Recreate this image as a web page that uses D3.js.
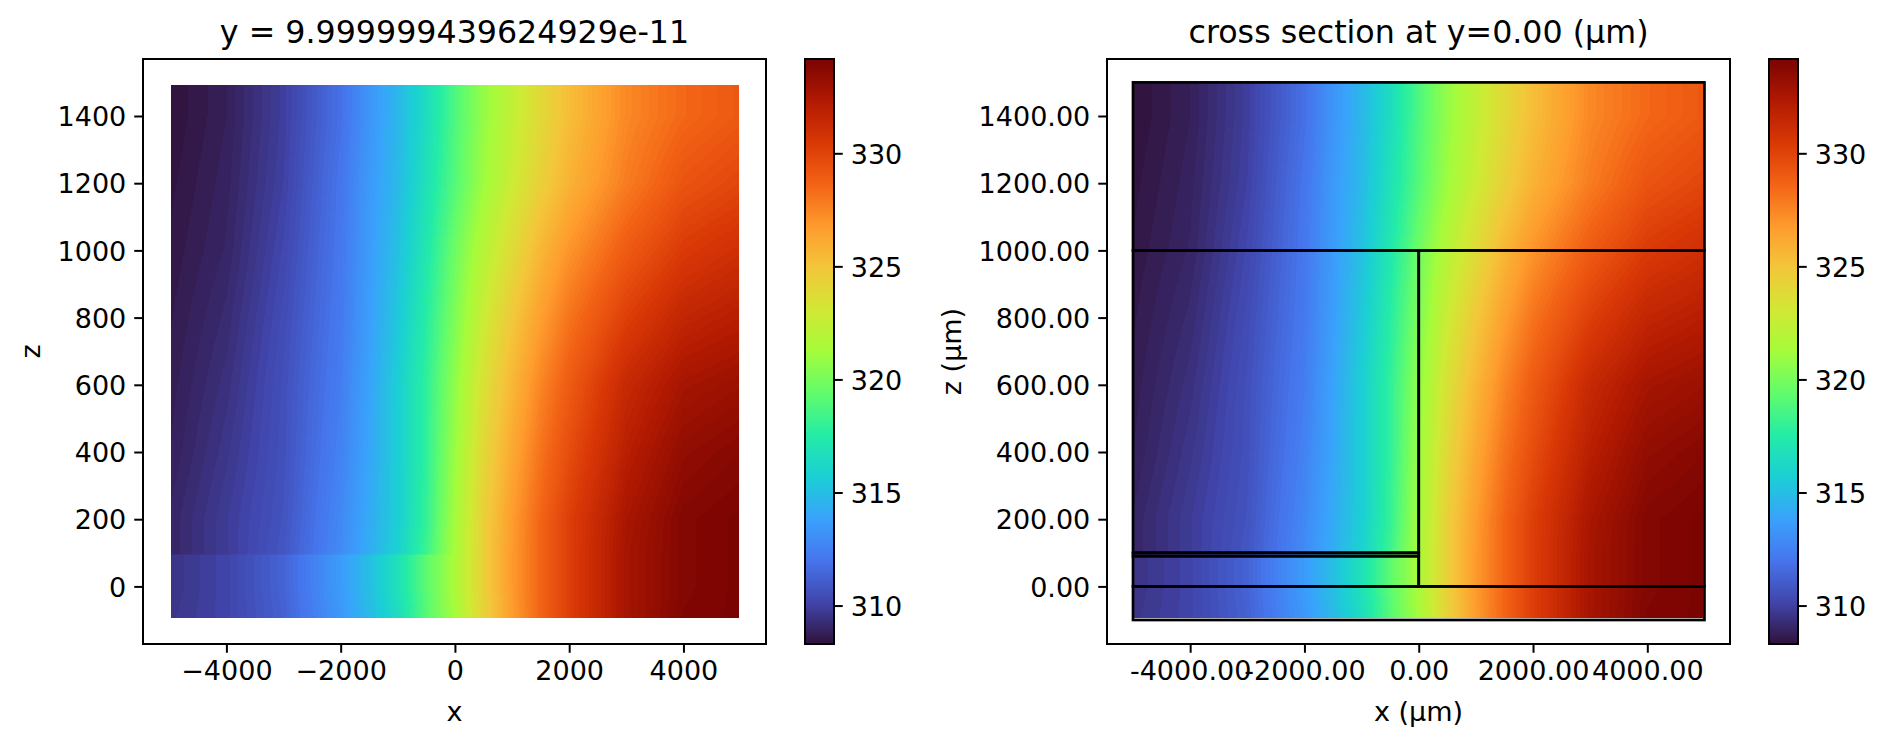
<!DOCTYPE html>
<html>
<head>
<meta charset="utf-8">
<script src="https://cdn.jsdelivr.net/npm/d3@7"></script>
<style>
  body { margin: 0; background: white; }
  text { font-family: "DejaVu Sans", sans-serif; fill: black; }
</style>
</head>
<body>
<div id="chart"></div>
<script>
// values
const gridX = [-5000, -4000, -3000, -2000, -1500, -1000, -500, 0, 500, 1000, 1500, 2000, 3000, 4000, 5000];
const gridZ = [-100, 0, 93, 97, 200, 400, 600, 800, 1000, 1200, 1400, 1500];
const gridT = [
    [309.6, 310.1, 311.2, 313.4, 314.8, 316.5, 319.0, 321.3, 324.3, 326.7, 328.6, 330.2, 332.7, 334.0, 334.2],
    [309.5, 310.1, 311.3, 313.6, 315.0, 316.8, 319.2, 321.5, 324.4, 326.8, 328.6, 330.2, 332.7, 333.9, 334.2],
    [309.5, 310.1, 311.3, 313.6, 315.0, 316.8, 319.2, 321.5, 324.4, 326.8, 328.6, 330.2, 332.7, 333.9, 334.2],
    [309.0, 309.8, 310.8, 312.9, 314.3, 315.9, 318.3, 321.4, 324.4, 326.8, 328.6, 330.2, 332.7, 333.9, 334.2],
    [309.0, 309.8, 310.7, 312.8, 314.2, 315.7, 318.0, 321.3, 324.4, 326.7, 328.6, 330.2, 332.6, 333.9, 334.2],
    [308.8, 309.6, 310.6, 312.55, 314.0, 315.7, 317.9, 321.0, 324.0, 326.2, 328.1, 329.6, 332.0, 333.4, 333.8],
    [308.7, 309.4, 310.55, 312.35, 313.9, 315.7, 317.9, 320.7, 323.5, 325.6, 327.5, 329.0, 331.4, 332.7, 333.1],
    [308.6, 309.2, 310.4, 312.2, 313.7, 315.4, 317.6, 320.2, 322.8, 324.8, 326.6, 328.1, 330.2, 331.6, 332.1],
    [308.5, 309.0, 310.2, 312.1, 313.6, 315.1, 317.2, 319.7, 322.0, 323.8, 325.6, 327.0, 329.0, 330.4, 331.0],
    [308.4, 308.9, 310.0, 312.0, 313.5, 314.8, 316.8, 319.0, 321.1, 322.8, 324.4, 325.8, 327.8, 329.3, 329.9],
    [308.3, 308.8, 309.9, 311.8, 313.3, 314.7, 316.5, 318.8, 320.8, 322.4, 323.9, 325.3, 327.4, 328.5, 329.1],
    [308.3, 308.8, 309.9, 311.8, 313.3, 314.7, 316.5, 318.8, 320.8, 322.4, 323.9, 325.3, 327.4, 328.5, 329.1]
];
const xTicks = [-4000, -2000, 0, 2000, 4000];
const zTicks = [0, 200, 400, 600, 800, 1000, 1200, 1400];
const cbarTicks = [310, 315, 320, 325, 330];
const cbarRange = [308.3, 334.17];
// layer outlines on the cross section: x0, x1, z0, z1
const layerX0 = [-5000, -5000, -5000, -5000, -5000, 0];
const layerX1 = [5000, 5000, 0, 0, 0, 5000];
const layerZ0 = [-100, 1000, 100, 90, 0, 0];
const layerZ1 = [0, 1500, 1000, 100, 90, 1000];
// turbo colormap
const turboColors = ["#30123b", "#4145ab", "#4675ed", "#39a2fc", "#1bcfd4", "#24eca6", "#61fc6c", "#a4fc3b",
    "#d1e834", "#f3c63a", "#fe9b2d", "#f36315", "#d93806", "#b11901", "#7a0402"];

const width = 1886, height = 747;
const plotTop = 59, plotBottom = 644;
const levelStep = 0.17;
const tickFont = "27px", titleFont = "31.7px";

const svg = d3.select("#chart").append("svg")
    .attr("width", width)
    .attr("height", height)
    .style("display", "block");

const defs = svg.append("defs");
const color = d3.scaleLinear()
    .domain(d3.range(turboColors.length).map(i => cbarRange[0] + (cbarRange[1] - cbarRange[0]) * i / (turboColors.length - 1)))
    .range(turboColors)
    .clamp(true);

const gradient = defs.append("linearGradient")
    .attr("id", "turbo")
    .attr("x1", 0).attr("x2", 0).attr("y1", 1).attr("y2", 0);
turboColors.forEach((c, i) => {
    gradient.append("stop").attr("offset", i / (turboColors.length - 1)).attr("stop-color", c);
});

// look up T between the read values
function tempAt(x, z) {
    const i = Math.min(Math.max(d3.bisectRight(gridX, x) - 1, 0), gridX.length - 2);
    const j = Math.min(Math.max(d3.bisectRight(gridZ, z) - 1, 0), gridZ.length - 2);
    const u = (x - gridX[i]) / (gridX[i + 1] - gridX[i]);
    const v = (z - gridZ[j]) / (gridZ[j + 1] - gridZ[j]);
    const a = gridT[j][i] * (1 - u) + gridT[j][i + 1] * u;
    const b = gridT[j + 1][i] * (1 - u) + gridT[j + 1][i + 1] * u;
    return a * (1 - v) + b * v;
}

function drawHeat(x, z, heatX, heatZ) {
    const x0 = Math.round(x(heatX[0])), x1 = Math.round(x(heatX[1]));
    const y0 = Math.round(z(heatZ[1])), y1 = Math.round(z(heatZ[0]));
    const canvas = document.createElement("canvas");
    canvas.width = x1 - x0;
    canvas.height = y1 - y0;
    const ctx = canvas.getContext("2d");
    for (let py = y0; py < y1; py++) {
        for (let px = x0; px < x1; px++) {
            const t = tempAt(x.invert(px + 0.5), z.invert(py + 0.5));
            ctx.fillStyle = color(Math.round(t / levelStep) * levelStep);
            ctx.fillRect(px - x0, py - y0, 1, 1);
        }
    }
    svg.append("image")
        .attr("x", x0).attr("y", y0)
        .attr("width", x1 - x0).attr("height", y1 - y0)
        .attr("href", canvas.toDataURL());
}

function styleAxis(g) {
    g.attr("font-size", null).attr("font-family", null);
    g.selectAll(".domain").remove();
    g.selectAll(".tick line").attr("stroke", "black").attr("stroke-width", 2);
    g.selectAll(".tick text").style("font-size", tickFont);
}

function drawPanel(opt) {
    const x = d3.scaleLinear().domain(opt.xDomain).range([opt.left, opt.right]);
    const z = d3.scaleLinear().domain([-171.4, 1569.6]).range([plotBottom, plotTop]);

    drawHeat(x, z, opt.heatX, opt.heatZ);

    if (opt.layers) {
        svg.selectAll(null)
            .data(d3.range(layerX0.length))
            .enter()
            .append("rect")
            .attr("x", i => x(layerX0[i]))
            .attr("y", i => z(layerZ1[i]))
            .attr("width", i => x(layerX1[i]) - x(layerX0[i]))
            .attr("height", i => z(layerZ0[i]) - z(layerZ1[i]))
            .attr("fill", "none")
            .attr("stroke", "black")
            .attr("stroke-width", 2.7);
    }

    // frame
    svg.append("rect")
        .attr("x", opt.left).attr("y", plotTop)
        .attr("width", opt.right - opt.left).attr("height", plotBottom - plotTop)
        .attr("fill", "none").attr("stroke", "black").attr("stroke-width", 2);

    svg.append("g")
        .attr("transform", `translate(0, ${plotBottom})`)
        .call(d3.axisBottom(x).tickValues(xTicks).tickFormat(opt.xFormat).tickSize(8.75).tickPadding(8))
        .call(styleAxis);
    svg.append("g")
        .attr("transform", `translate(${opt.left}, 0)`)
        .call(d3.axisLeft(z).tickValues(zTicks).tickFormat(opt.zFormat).tickSize(8.75).tickPadding(8))
        .call(styleAxis)
        .selectAll(".tick text").attr("y", 1);

    svg.append("text")
        .attr("x", (opt.left + opt.right) / 2)
        .attr("y", 43)
        .attr("text-anchor", "middle")
        .style("font-size", titleFont)
        .text(opt.title);
    svg.append("text")
        .attr("x", (opt.left + opt.right) / 2)
        .attr("y", 721)
        .attr("text-anchor", "middle")
        .style("font-size", tickFont)
        .text(opt.xLabel);
    svg.append("text")
        .attr("transform", `translate(${opt.zLabelX}, ${(plotTop + plotBottom) / 2}) rotate(-90)`)
        .attr("text-anchor", "middle")
        .style("font-size", tickFont)
        .text(opt.zLabel);

    // colorbar
    const c = d3.scaleLinear().domain(cbarRange).range([plotBottom, plotTop]);
    svg.append("rect")
        .attr("x", opt.cbarLeft).attr("y", plotTop)
        .attr("width", 29).attr("height", plotBottom - plotTop)
        .attr("fill", "url(#turbo)")
        .attr("stroke", "black").attr("stroke-width", 2);
    svg.append("g")
        .attr("transform", `translate(${opt.cbarLeft + 29}, 0)`)
        .call(d3.axisRight(c).tickValues(cbarTicks).tickSize(8.75).tickPadding(8))
        .call(styleAxis)
        .selectAll(".tick text").attr("y", 1.5);
}

drawPanel({
    left: 143, right: 766, xDomain: [-5460, 5445], cbarLeft: 805,
    heatX: [-4965, 4965], heatZ: [-93, 1493],
    title: "y = 9.999999439624929e-11", xLabel: "x", zLabel: "z", zLabelX: 40,
    xFormat: d3.format("d"), zFormat: d3.format("d"), layers: false
});
drawPanel({
    left: 1107, right: 1730, xDomain: [-5455, 5447], cbarLeft: 1769,
    heatX: [-5000, 4980], heatZ: [-94, 1500],
    title: "cross section at y=0.00 (µm)", xLabel: "x (µm)", zLabel: "z (µm)", zLabelX: 961,
    xFormat: d => d.toFixed(2), zFormat: d => d.toFixed(2), layers: true
});
</script>
</body>
</html>
